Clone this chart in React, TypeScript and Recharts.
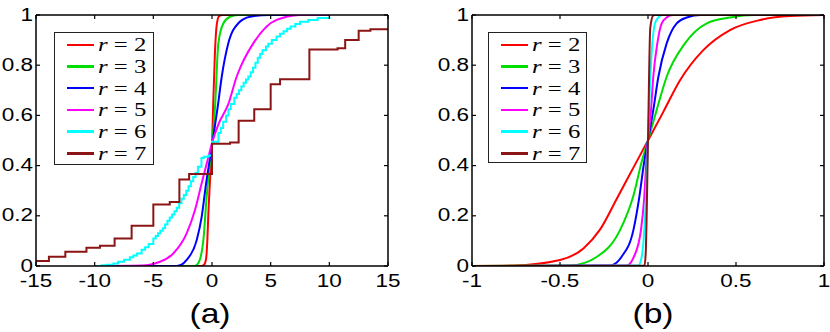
import React from "react";
import { LineChart, Line, XAxis, YAxis } from "recharts";

type Pt = { x: number; y: number };
const toPts = (arr: number[][]): Pt[] => arr.map(([x, y]) => ({ x, y }));

// legend / colours
const rValues = ["2", "3", "4", "5", "6", "7"];
const rColors = ["#ff0000", "#00dd00", "#0000ff", "#ff00ff", "#00ffff", "#8b1515"];

// ticks
const yTicks = [0, 0.2, 0.4, 0.6, 0.8, 1];
const aTicks = [-15, -10, -5, 0, 5, 10, 15];
const bTicks = [-1, -0.5, 0, 0.5, 1];

// panel (a)
const aR2 = [[-10, 0], [-1, 0], [-0.7, 0.004], [-0.5, 0.03], [-0.4, 0.1], [-0.3, 0.22], [-0.15, 0.36], [0, 0.48], [0.1, 0.64], [0.25, 0.85], [0.4, 0.96], [0.6, 0.995], [0.85, 1], [10, 1]];
const aR3 = [[-10, 0], [-1.5, 0], [-1.3, 0.004], [-1.0, 0.03], [-0.7, 0.12], [-0.5, 0.25], [-0.25, 0.38], [0, 0.48], [0.26, 0.635], [0.54, 0.887], [0.97, 0.967], [1.53, 0.993], [2.2, 1], [10, 1]];
const aR4 = [[-10, 0], [-3, 0], [-2.6, 0.005], [-2.16, 0.024], [-1.3, 0.104], [-0.88, 0.196], [-0.5, 0.33], [0, 0.48], [0.49, 0.635], [0.83, 0.754], [1.39, 0.887], [2.24, 0.967], [3.24, 0.993], [4.9, 1], [10, 1]];
const aR5 = [[-10, 0], [-6, 0.002], [-4.43, 0.017], [-3.3, 0.05], [-2.16, 0.13], [-1.45, 0.223], [-0.88, 0.33], [-0.3, 0.435], [0, 0.49], [0.6, 0.57], [1.39, 0.645], [2.1, 0.754], [2.5, 0.8], [3.52, 0.887], [4.66, 0.954], [6.36, 0.993], [7.5, 1], [10, 1]];
const aR6 = [[-10, 0], [-9.4, 0.003], [-9, 0.005], [-8.4, 0.01], [-8, 0.017], [-7.5, 0.025], [-7, 0.035], [-6.7, 0.042], [-6.4, 0.05], [-6, 0.065], [-5.7, 0.075], [-5.4, 0.088], [-5, 0.11], [-4.8, 0.12], [-4.6, 0.13], [-4.4, 0.14], [-4.2, 0.15], [-4, 0.165], [-3.8, 0.18], [-3.6, 0.193], [-3.4, 0.205], [-3.2, 0.218], [-3.0, 0.232], [-2.8, 0.25], [-2.6, 0.268], [-2.4, 0.283], [-2.2, 0.3], [-2.0, 0.318], [-1.8, 0.338], [-1.6, 0.355], [-1.4, 0.372], [-1.2, 0.395], [-0.9, 0.43], [-0.7, 0.435], [-0.3, 0.44], [0, 0.495], [0.55, 0.53], [0.75, 0.55], [0.95, 0.575], [1.2, 0.6], [1.4, 0.625], [1.6, 0.645], [1.9, 0.67], [2.1, 0.685], [2.3, 0.7], [2.5, 0.715], [2.7, 0.73], [2.9, 0.743], [3.1, 0.755], [3.3, 0.772], [3.5, 0.79], [3.7, 0.81], [3.9, 0.83], [4.1, 0.845], [4.3, 0.86], [4.6, 0.875], [4.8, 0.885], [5.1, 0.9], [5.5, 0.914], [5.8, 0.925], [6.1, 0.935], [6.4, 0.945], [6.7, 0.954], [7.1, 0.964], [7.5, 0.973], [8.2, 0.98], [9, 0.988], [10, 0.993]];
const aR7 = [[-15, 0.02], [-13.9, 0.037], [-12.5, 0.057], [-10.7, 0.073], [-9.55, 0.081], [-8.3, 0.11], [-6.85, 0.16], [-5.0, 0.245], [-3.6, 0.255], [-2.78, 0.345], [-1.95, 0.367], [0, 0.487], [1.54, 0.492], [2.27, 0.579], [3.6, 0.625], [5.0, 0.724], [5.8, 0.744], [8.3, 0.863], [10.7, 0.868], [11.35, 0.9], [12.5, 0.937], [13.5, 0.943], [15, 0.943]];

// panel (b)
const bR2 = [[-1, 0], [-0.767, 0.002], [-0.5, 0.024], [-0.367, 0.07], [-0.273, 0.145], [-0.178, 0.267], [-0.083, 0.392], [0, 0.5], [0.087, 0.614], [0.182, 0.74], [0.314, 0.86], [0.466, 0.94], [0.636, 0.98], [0.807, 0.996], [1, 1]];
const bR3 = [[-1, 0], [-0.443, 0.002], [-0.29, 0.037], [-0.159, 0.143], [-0.083, 0.28], [-0.036, 0.415], [0, 0.5], [0.049, 0.621], [0.106, 0.754], [0.21, 0.887], [0.334, 0.967], [0.466, 0.99], [0.6, 1], [1, 1]];
const bR4 = [[-1, 0], [-0.216, 0.002], [-0.15, 0.037], [-0.083, 0.143], [-0.049, 0.276], [-0.023, 0.409], [0, 0.5], [0.03, 0.621], [0.059, 0.754], [0.106, 0.887], [0.163, 0.967], [0.22, 0.99], [0.3, 1], [1, 1]];
const bR5 = [[-1, 0], [-0.121, 0.002], [-0.08, 0.037], [-0.04, 0.143], [-0.021, 0.276], [-0.01, 0.409], [0, 0.5], [0.017, 0.621], [0.03, 0.754], [0.053, 0.887], [0.078, 0.967], [0.106, 0.99], [0.14, 1], [1, 1]];
const bR6 = [[-1, 0], [-0.055, 0.002], [-0.036, 0.037], [-0.021, 0.143], [-0.01, 0.3], [0, 0.5], [0.01, 0.7], [0.021, 0.85], [0.04, 0.967], [0.059, 0.99], [0.08, 1], [1, 1]];
const bR7 = [[-1, 0], [-0.02, 0.002], [-0.013, 0.05], [0, 0.5], [0.013, 0.95], [0.03, 0.998], [0.04, 1], [1, 1]];

const aSeries = [aR2, aR3, aR4, aR5, aR6, aR7].map(toPts);
const bSeries = [bR2, bR3, bR4, bR5, bR6, bR7].map(toPts);
const aTypes = ["monotone", "monotone", "monotone", "monotone", "stepAfter", "stepAfter"];
const bTypes = ["monotone", "monotone", "monotone", "monotone", "monotone", "monotone"];

const tickFont = "'Liberation Sans', Arial, sans-serif";
const mathFont = "'Liberation Serif', 'DejaVu Serif', serif";
const fmt = (v: number) => String(v);
// the original figure is a bit stretched sideways
const SX = 1.25;

const BottomTick = (p: any) => (
  <g>
    <line x1={p.x} y1={p.y} x2={p.x} y2={p.y - 4} stroke="#000" strokeWidth={1.2} />
    <text
      transform={`translate(${p.x},${p.y + 21}) scale(${SX},1)`}
      textAnchor="middle"
      fontSize={18}
      fontFamily={tickFont}
      fill="#000"
    >
      {fmt(p.payload.value)}
    </text>
  </g>
);
const TopTick = (p: any) => (
  <line x1={p.x} y1={p.y} x2={p.x} y2={p.y + 4} stroke="#000" strokeWidth={1.2} />
);
const LeftTick = (p: any) => (
  <g>
    <line x1={p.x} y1={p.y} x2={p.x + 4} y2={p.y} stroke="#000" strokeWidth={1.2} />
    <text
      transform={`translate(${p.x - 3},${p.y + 5.5}) scale(${SX},1)`}
      textAnchor="end"
      fontSize={18}
      fontFamily={tickFont}
      fill="#000"
    >
      {fmt(p.payload.value)}
    </text>
  </g>
);
const RightTick = (p: any) => (
  <line x1={p.x} y1={p.y} x2={p.x - 4} y2={p.y} stroke="#000" strokeWidth={1.2} />
);

function LegendBox({ left, top, width, height }: { left: number; top: number; width: number; height: number }) {
  return (
    <div
      style={{
        position: "absolute",
        left,
        top,
        width,
        height,
        boxSizing: "border-box",
        border: "1.5px solid #222",
        background: "#fff",
        paddingTop: 1,
      }}
    >
      {rValues.map((r, i) => (
        <div key={r} style={{ display: "flex", alignItems: "center", height: 21.7 }}>
          <div style={{ marginLeft: 12, width: 27, height: 2.5, background: rColors[i] }} />
          <span
            style={{
              marginLeft: 4,
              display: "inline-block",
              transform: "scaleX(1.3)",
              transformOrigin: "left center",
              fontFamily: mathFont,
              fontSize: 19,
              lineHeight: "21px",
              color: "#000",
              whiteSpace: "pre",
            }}
          >
            <i>r</i>
            {` = ${r}`}
          </span>
        </div>
      ))}
    </div>
  );
}

function Panel({
  series,
  types,
  domain,
  ticks,
  margin,
}: {
  series: Pt[][];
  types: string[];
  domain: [number, number];
  ticks: number[];
  margin: { top: number; right: number; bottom: number; left: number };
}) {
  const axisLine = { stroke: "#000", strokeWidth: 1.5 };
  return (
    <LineChart width={415} height={332} margin={margin}>
      <XAxis
        xAxisId="b"
        dataKey="x"
        type="number"
        domain={domain}
        ticks={ticks}
        allowDataOverflow
        height={1}
        tickSize={0}
        tickMargin={0}
        tick={BottomTick}
        axisLine={axisLine}
        tickLine={false}
        interval={0}
      />
      <XAxis
        xAxisId="t"
        orientation="top"
        dataKey="x"
        type="number"
        domain={domain}
        ticks={ticks}
        allowDataOverflow
        height={1}
        tickSize={0}
        tickMargin={0}
        tick={TopTick}
        axisLine={axisLine}
        tickLine={false}
        interval={0}
      />
      <YAxis
        yAxisId="l"
        type="number"
        domain={[0, 1]}
        ticks={yTicks}
        allowDataOverflow
        width={1}
        tickSize={0}
        tickMargin={0}
        tick={LeftTick}
        axisLine={axisLine}
        tickLine={false}
        interval={0}
      />
      <YAxis
        yAxisId="r"
        orientation="right"
        type="number"
        domain={[0, 1]}
        ticks={yTicks}
        allowDataOverflow
        width={1}
        tickSize={0}
        tickMargin={0}
        tick={RightTick}
        axisLine={axisLine}
        tickLine={false}
        interval={0}
      />
      {series.map((d, i) => (
        <Line
          key={i}
          xAxisId="b"
          yAxisId="l"
          data={d}
          dataKey="y"
          type={types[i] as any}
          stroke={rColors[i]}
          strokeWidth={2}
          dot={false}
          activeDot={false}
          isAnimationActive={false}
        />
      ))}
    </LineChart>
  );
}

const panelLabel: React.CSSProperties = {
  position: "absolute",
  width: 100,
  top: 297,
  textAlign: "center",
  fontFamily: tickFont,
  fontSize: 28,
  lineHeight: "34px",
  transform: "scaleX(1.2)",
};

export default function App() {
  return (
    <div style={{ position: "absolute", left: 0, top: 0, width: 830, height: 332, background: "#fff", overflow: "hidden" }}>
      <div style={{ position: "absolute", left: 0, top: 0 }}>
        <Panel series={aSeries} types={aTypes} domain={[-15, 15]} ticks={aTicks} margin={{ top: 14, right: 26, bottom: 65, left: 35 }} />
      </div>
      <div style={{ position: "absolute", left: 415, top: 0 }}>
        <Panel series={bSeries} types={bTypes} domain={[-1, 1]} ticks={bTicks} margin={{ top: 14, right: 5, bottom: 65, left: 56 }} />
      </div>
      <LegendBox left={54} top={32} width={100} height={133} />
      <LegendBox left={488} top={32} width={99} height={131} />
      <div style={{ ...panelLabel, left: 160 }}>(a)</div>
      <div style={{ ...panelLabel, left: 603 }}>(b)</div>
    </div>
  );
}
